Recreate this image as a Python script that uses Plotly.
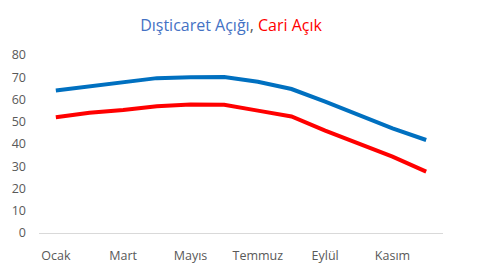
import plotly.graph_objects as go

months = ["Ocak", "Şubat", "Mart", "Nisan", "Mayıs", "Haziran",
          "Temmuz", "Ağustos", "Eylül", "Ekim", "Kasım", "Aralık"]
dis_ticaret = [64.0, 66.0, 68.0, 69.6, 70.0, 70.1, 68.0, 64.7, 59.0, 52.8, 47.0, 41.8]
cari_acik = [52.0, 54.0, 55.3, 57.0, 57.8, 57.6, 55.0, 52.4, 46.0, 40.2, 34.3, 27.6]
x_tick_labels = ["Ocak", "Mart", "Mayıs", "Temmuz", "Eylül", "Kasım"]
y_ticks = [0, 10, 20, 30, 40, 50, 60, 70, 80]

idx = list(range(len(months)))

fig = go.Figure()
fig.add_trace(go.Scatter(x=idx, y=dis_ticaret, mode="lines", name="Dışticaret Açığı",
                         line=dict(color="#0070C0", width=4)))
fig.add_trace(go.Scatter(x=idx, y=cari_acik, mode="lines", name="Cari Açık",
                         line=dict(color="#FF0000", width=4)))

tickvals = [months.index(m) for m in x_tick_labels]

fig.update_layout(
    width=492, height=267,
    margin=dict(l=39, r=49, t=55, b=34),
    paper_bgcolor="white", plot_bgcolor="white",
    showlegend=False,
    font=dict(family="Open Sans, Liberation Sans, sans-serif", color="#595959", size=12.5),
    title=dict(
        text="<span style='color:#4472C4'>Dışticaret Açığı</span><span style='color:#595959'>, </span><span style='color:#FF0000'>Cari Açık</span>",
        x=0.4695, xanchor="center", y=0.905, yanchor="middle",
        font=dict(size=16, family="Open Sans, Liberation Sans, sans-serif"),
    ),
    xaxis=dict(
        range=[-0.5, 11.5], tickvals=tickvals, ticktext=x_tick_labels,
        showgrid=False, zeroline=False, showline=True, linecolor="#D9D9D9", linewidth=1,
        ticks="", ticklabelstandoff=11, fixedrange=True, automargin=False,
    ),
    yaxis=dict(
        range=[0, 80], tickvals=y_ticks, showgrid=False, zeroline=False,
        showline=False, ticks="", ticklabelstandoff=12, fixedrange=True, automargin=False,
    ),
)

fig.write_html("out.html")
